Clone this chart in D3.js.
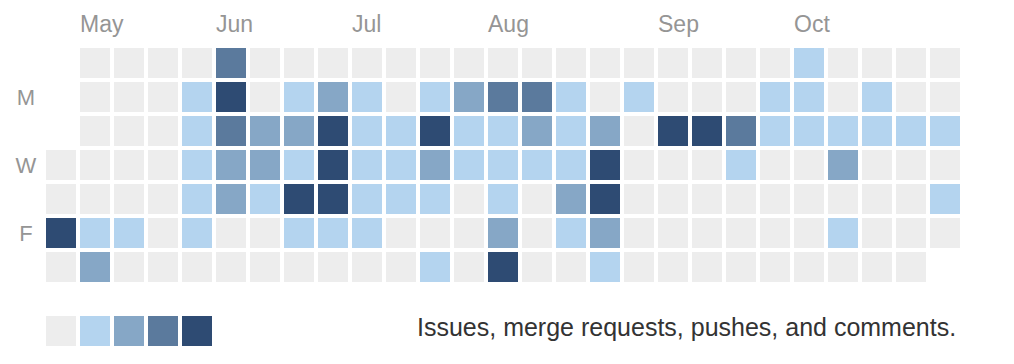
<!DOCTYPE html>
<html>
<head>
<meta charset="utf-8">
<script src="https://cdn.jsdelivr.net/npm/d3@7"></script>
<style>
  body { margin: 0; background: #fff; }
  svg { display: block; font-family: 'Liberation Sans', Arial, sans-serif; }
</style>
</head>
<body>
<svg class="canvas" width="1014" height="364"></svg>
<script>
// weekday rows (Sunday first) and their visible labels
const days = ['Sun', 'Mon', 'Tue', 'Wed', 'Thu', 'Fri', 'Sat'];
const dayLabels = ['', 'M', '', 'W', '', 'F', ''];

// month labels and the week column they start at
const months = ['May', 'Jun', 'Jul', 'Aug', 'Sep', 'Oct'];
const monthWeeks = [1, 5, 9, 13, 18, 22];

// activity level per week column (0-4), null = no day in that slot
const sun = [null, 0, 0, 0, 0, 3, 0, 0, 0, 0, 0, 0, 0, 0, 0, 0, 0, 0, 0, 0, 0, 0, 1, 0, 0, 0, 0];
const mon = [null, 0, 0, 0, 1, 4, 0, 1, 2, 1, 0, 1, 2, 3, 3, 1, 0, 1, 0, 0, 0, 1, 1, 0, 1, 0, 0];
const tue = [null, 0, 0, 0, 1, 3, 2, 2, 4, 1, 1, 4, 1, 1, 2, 1, 2, 0, 4, 4, 3, 1, 1, 1, 1, 1, 1];
const wed = [0, 0, 0, 0, 1, 2, 2, 1, 4, 1, 1, 2, 1, 1, 1, 1, 4, 0, 0, 0, 1, 0, 0, 2, 0, 0, 0];
const thu = [0, 0, 0, 0, 1, 2, 1, 4, 4, 1, 1, 1, 0, 1, 0, 2, 4, 0, 0, 0, 0, 0, 0, 0, 0, 0, 1];
const fri = [4, 1, 1, 0, 1, 0, 0, 1, 1, 1, 0, 0, 0, 2, 0, 1, 2, 0, 0, 0, 0, 0, 0, 1, 0, 0, 0];
const sat = [0, 2, 0, 0, 0, 0, 0, 0, 0, 0, 0, 1, 0, 4, 0, 0, 1, 0, 0, 0, 0, 0, 0, 0, 0, 0, null];

const levelColors = ['#ededed', '#b4d4ef', '#86a7c6', '#5b7a9d', '#2e4b73'];
const legendText = 'Issues, merge requests, pushes, and comments.';

const rows = [sun, mon, tue, wed, thu, fri, sat];
const cells = [];
rows.forEach((row, r) => {
  row.forEach((level, w) => {
    if (level !== null) cells.push({ day: days[r], week: w, level: level });
  });
});

const svg = d3.select('.canvas');

// band scales for week columns and weekday rows
const xScale = d3
  .scaleBand()
  .domain(d3.range(sun.length))
  .range([46, 960])
  .paddingInner(4 / 34);
const yScale = d3
  .scaleBand()
  .domain(days)
  .range([48, 282])
  .paddingInner(4 / 34);
const color = d3.scaleOrdinal().domain(d3.range(5)).range(levelColors);

// month labels
svg
  .selectAll('.month')
  .data(months)
  .enter()
  .append('text')
  .attr('class', 'month')
  .attr('x', (d, i) => xScale(monthWeeks[i]))
  .attr('y', 32)
  .attr('fill', '#959595')
  .style('font-size', '23px')
  .text((d) => d);

// weekday labels
svg
  .selectAll('.day')
  .data(days)
  .enter()
  .append('text')
  .attr('class', 'day')
  .attr('x', 26)
  .attr('y', (d) => yScale(d) + yScale.bandwidth() / 2)
  .attr('text-anchor', 'middle')
  .attr('dominant-baseline', 'central')
  .attr('fill', '#959595')
  .style('font-size', '22px')
  .text((d, i) => dayLabels[i]);

// day cells
svg
  .selectAll('rect.cell')
  .data(cells)
  .enter()
  .append('rect')
  .attr('class', 'cell')
  .attr('x', (d) => xScale(d.week))
  .attr('y', (d) => yScale(d.day))
  .attr('width', xScale.bandwidth())
  .attr('height', yScale.bandwidth())
  .attr('fill', (d) => color(d.level));

// legend swatches
svg
  .selectAll('rect.legend')
  .data(d3.range(5))
  .enter()
  .append('rect')
  .attr('class', 'legend')
  .attr('x', (d) => xScale(d))
  .attr('y', 316)
  .attr('width', xScale.bandwidth())
  .attr('height', yScale.bandwidth())
  .attr('fill', (d) => color(d));

svg
  .append('text')
  .attr('x', 417)
  .attr('y', 336)
  .attr('fill', '#333')
  .style('font-size', '25px')
  .text(legendText);
</script>
</body>
</html>
